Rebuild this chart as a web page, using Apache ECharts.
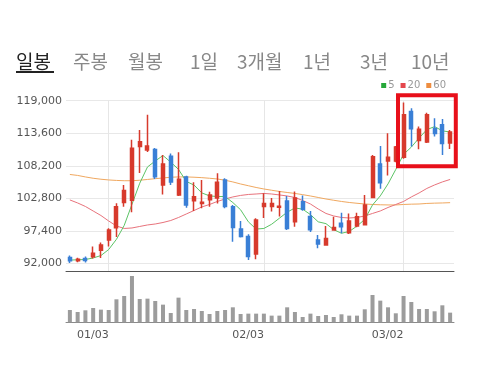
<!DOCTYPE html>
<html><head><meta charset="utf-8">
<script src="https://cdn.jsdelivr.net/npm/echarts@6/dist/echarts.min.js"></script>
<style>html,body{margin:0;padding:0;background:#fff}#c{width:477px;height:365px}</style>
</head><body><div id="c"></div>
<script>
// ---- data ----
const dates = ['12/24','12/27','12/28','12/29','12/30','01/03','01/04','01/05','01/06','01/07','01/10','01/11','01/12','01/13','01/14','01/17','01/18','01/19','01/20','01/21','01/24','01/25','01/26','01/27','01/28','02/03','02/04','02/07','02/08','02/09','02/10','02/11','02/14','02/15','02/16','02/17','02/18','02/21','02/22','02/23','02/24','02/25','02/28','03/02','03/03','03/04','03/07','03/08','03/10','03/11'];
// [open, close, low, high]
const ohlc = [
 [93000,92450,92050,93300],[92450,92700,92200,92950],[92800,92500,92150,93150],[93100,93700,92800,94800],[94200,95050,92900,95450],
 [95900,97550,94800,97850],[97900,101400,96400,102000],[102100,104100,101400,105000],[102500,111100,100500,112500],[111400,112200,107000,114150],
 [110800,111500,110500,116650],[110900,106400,106000,111150],[105000,108500,103450,110000],[109800,105500,105000,110250],[103350,105950,103200,110450],
 [106350,101700,101250,106550],[102400,103050,100700,105450],[101950,102150,101150,105850],[102550,103350,101400,103900],[102850,105450,101950,106950],
 [105850,101450,101150,106150],[101400,97950,95600,101700],[97700,96450,96300,99050],[96450,93150,92550,96850],[93550,99200,92700,99500],
 [101450,101950,99550,103650],[101450,101950,100600,102850],[101300,101500,99800,104000],[102350,97800,97550,103200],[98900,102850,98100,103950],
 [102250,101000,100750,103250],[99800,97600,97200,100700],[95900,95200,94500,96700],[95050,96150,94950,98200],[97550,97950,97500,99750],
 [98650,98100,97000,100400],[97100,99050,96900,100300],[98200,99750,98000,100400],[98400,101700,98300,103350],[102950,109700,102900,110000],
 [108500,105400,104400,111500],[109000,109600,106600,113600],[109000,111300,108800,111500],[109600,116650,109350,118700],[117200,114350,111400,117750],
 [112400,114250,110950,114700],[112150,116650,112000,117000],[114400,113550,113050,116100],[115000,111900,110000,115950],[112000,113800,111000,114150]
];
const ma5 = [92550,92600,92650,92900,93300,94300,96000,98300,101800,105300,108000,109000,109900,108800,107600,105600,105000,103700,103200,103100,103100,102100,100900,98900,97700,97800,98500,99500,100500,101200,101000,100100,98900,98600,97600,97000,97300,98200,99300,101700,103200,105200,107600,110100,111300,112800,114200,114700,114000,113800];
const ma20 = [102530,102030,101450,100700,99950,99040,98210,97800,97880,98130,98380,98540,98790,99120,99620,100200,100780,101370,101780,102280,102690,103030,103280,103440,103520,103610,103520,103360,103190,102940,102440,101860,101030,100290,99870,99620,99540,99620,99870,100290,100700,101280,101780,102280,103030,103690,104440,105020,105520,105930];
const ma60 = [106760,106600,106350,106130,105970,105850,105770,105720,105720,105800,105930,106060,106180,106300,106350,106350,106300,106230,106130,106010,105800,105520,105180,104890,104600,104350,104140,103940,103770,103610,103410,103190,102940,102690,102480,102280,102110,101980,101860,101780,101730,101700,101700,101780,101830,101860,101950,102000,102030,102080];
const volume = [370000,310000,360000,430000,380000,370000,690000,790000,1390000,700000,710000,640000,530000,280000,740000,370000,400000,340000,250000,340000,370000,450000,250000,260000,260000,260000,200000,200000,450000,310000,160000,260000,190000,220000,160000,240000,200000,200000,390000,820000,650000,450000,270000,790000,610000,400000,400000,330000,510000,290000];
const priceTicks = [92000,97400,102800,108200,113600,119000];
const dateLabels = ['01/03','02/03','03/02'];
const maNames = ['5','20','60'];
const tabs = ['일봉','주봉','월봉','1일','3개월','1년','3년','10년'];

// ---- layout / style ----
const tabX = [16,73,128,190,237,303,360,411];
const RED = '#d73a2c', BLUE = '#3a7fd6';
const fmt = v => String(v).replace(/\B(?=(\d{3})+(?!\d))/g, ',');
const labelIdx = dateLabels.map(d => dates.indexOf(d));
const FONT = 'DejaVu Sans';

const chart = echarts.init(document.getElementById('c'), null, {renderer:'canvas'});
chart.setOption({
  animation: false,
  backgroundColor: '#fff',
  legend: {
    data: [
      {name: maNames[0], itemStyle:{color:'#27a83a'}},
      {name: maNames[1], itemStyle:{color:'#e4474d'}},
      {name: maNames[2], itemStyle:{color:'#ee8d3f'}}
    ],
    right: 31, top: 80.5, padding: 0, icon: 'rect', itemWidth: 5, itemHeight: 5, itemGap: 6,
    selectedMode: false,
    textStyle: {color:'#999', fontSize: 10, fontFamily: FONT, padding:[0,0,0,-3]}
  },
  grid: [
    {left: 66, right: 23, top: 100.7, bottom: 94},
    {left: 66, right: 23, top: 274, bottom: 42.7}
  ],
  xAxis: [
    {type:'category', data: dates, gridIndex:0, boundaryGap:true,
     axisLine:{show:true, lineStyle:{color:'#555', width:1}},
     axisTick:{show:false}, axisLabel:{show:false}, splitLine:{show:false}},
    {type:'category', data: dates, gridIndex:1, boundaryGap:true,
     axisLine:{show:true, lineStyle:{color:'#8a8a8a', width:1}},
     axisTick:{show:false},
     axisLabel:{show:true, interval:(i)=>labelIdx.includes(i), align:'right', margin:7,
       color:'#555', fontSize:11, fontFamily: FONT},
     splitLine:{show:false}}
  ],
  yAxis: [
    {type:'value', gridIndex:0, min: 90740, max: 119000, scale:true,
     axisLine:{show:false},
     axisTick:{show:false, customValues: priceTicks},
     axisLabel:{show:true, customValues: priceTicks, formatter: fmt, color:'#555', fontSize:11, fontFamily: FONT, margin:4},
     splitLine:{show:true, lineStyle:{color:'#e8e8e8', width:1}}},
    {type:'value', gridIndex:1, min:0, max:1450000, show:false, splitLine:{show:false}}
  ],
  series: [
    {name: maNames[2], type:'line', data: ma60, xAxisIndex:0, yAxisIndex:0, showSymbol:false, symbol:'none',
     lineStyle:{color:'#f0a860', width:1}, itemStyle:{color:'#f0a860'}, z:2},
    {name: maNames[1], type:'line', data: ma20, xAxisIndex:0, yAxisIndex:0, showSymbol:false, symbol:'none',
     lineStyle:{color:'#e8737c', width:1}, itemStyle:{color:'#e8737c'}, z:2},
    {name: maNames[0], type:'line', data: ma5, xAxisIndex:0, yAxisIndex:0, showSymbol:false, symbol:'none',
     lineStyle:{color:'#5cc466', width:1}, itemStyle:{color:'#5cc466'}, z:2},
    {name:'price', type:'candlestick', data: ohlc, xAxisIndex:0, yAxisIndex:0, barWidth:3.5, z:3,
     itemStyle:{color:RED, color0:BLUE, borderColor:RED, borderColor0:BLUE, borderWidth:1.5},
     markLine:{silent:true, symbol:'none', label:{show:false},
       lineStyle:{color:'#e6e6e6', width:1, type:'solid'},
       data: dateLabels.map(d => ({xAxis: d})), z:1}},
    {name:'volume', type:'bar', data: volume, xAxisIndex:1, yAxisIndex:1, barWidth:4,
     itemStyle:{color:'#9c9c9c'}}
  ],
  graphic: [
    ...tabs.map((t,i)=>({type:'text', x: tabX[i], y: 62, silent:true,
      style:{text:t, fontSize:19, fontFamily:'Noto Sans CJK KR', fill: i===0 ? '#222' : '#888', verticalAlign:'middle', align:'left'}})),
    {type:'rect', shape:{x:16, y:71, width:38, height:2}, style:{fill:'#222'}, silent:true},
    {type:'rect', shape:{x:398, y:95.3, width:57.8, height:71}, style:{fill:'none', stroke:'#e8101a', lineWidth:4}, z:100, silent:true}
  ]
});
</script>
</body></html>
